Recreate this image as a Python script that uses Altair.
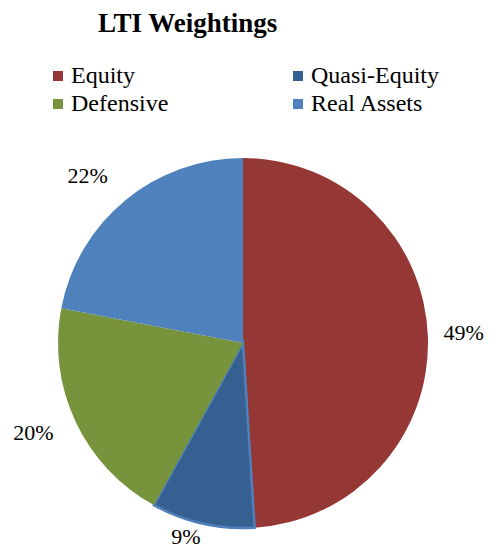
import altair as alt
import pandas as pd

categories = ["Equity", "Quasi-Equity", "Defensive", "Real Assets"]
values = [49, 9, 20, 22]
colors = ["#953735", "#376092", "#77933C", "#4F81BD"]

df = pd.DataFrame({"category": categories, "value": values, "order": list(range(len(categories)))})

FONT = "Times New Roman, Liberation Serif, serif"
CX, CY = 235, 295

base = alt.Chart(df).transform_window(
    cum="sum(value)", sort=[alt.SortField("order")], frame=[None, 0]
).transform_calculate(
    start="datum.cum - datum.value",
    mid="datum.cum - datum.value / 2",
    label="datum.value + '%'",
)

theta_scale = alt.Scale(domain=[0, 100])

arcs = base.mark_arc(outerRadius=185, stroke="#4F81BD").encode(
    theta=alt.Theta("start:Q", scale=theta_scale),
    theta2="cum:Q",
    color=alt.Color(
        "category:N",
        scale=alt.Scale(domain=categories, range=colors),
        sort=categories,
        legend=alt.Legend(
            orient="none", legendX=38, legendY=16, columns=2, direction="horizontal",
            title=None, symbolType="square", symbolSize=100, symbolStrokeWidth=0,
            labelFont=FONT, labelFontSize=24, labelColor="black",
            columnPadding=117, rowPadding=4, labelOffset=1,
        ),
    ),
    strokeWidth=alt.condition("datum.category == 'Quasi-Equity'", alt.value(2.5), alt.value(0)),
    x=alt.value(CX),
    y=alt.value(CY),
)


def label_layer(cat, radius, theta_offset):
    return base.transform_filter(alt.datum.category == cat).mark_text(
        radius=radius, thetaOffset=theta_offset, font=FONT, fontSize=22, color="black",
        align="center", baseline="middle",
    ).encode(
        theta=alt.Theta("mid:Q", scale=theta_scale),
        text="label:N",
        x=alt.value(CX),
        y=alt.value(CY),
    )


labels = [
    label_layer("Equity", 221, -0.014),
    label_layer("Quasi-Equity", 202, 0.066),
    label_layer("Defensive", 228, 0.035),
    label_layer("Real Assets", 228, -0.058),
]

chart = alt.layer(arcs, *labels).properties(
    width=477,
    height=503,
    padding={"left": 0, "top": 40, "right": 0, "bottom": 0},
    autosize=alt.AutoSizeParams(type="none"),
    title=alt.TitleParams(
        "LTI Weightings", font=FONT, fontSize=27, fontWeight="bold", color="black",
        anchor="start", dx=90, offset=10,
    ),
).configure_view(stroke=None)

chart.save("out.html", embed_options={"renderer": "svg", "actions": False})
